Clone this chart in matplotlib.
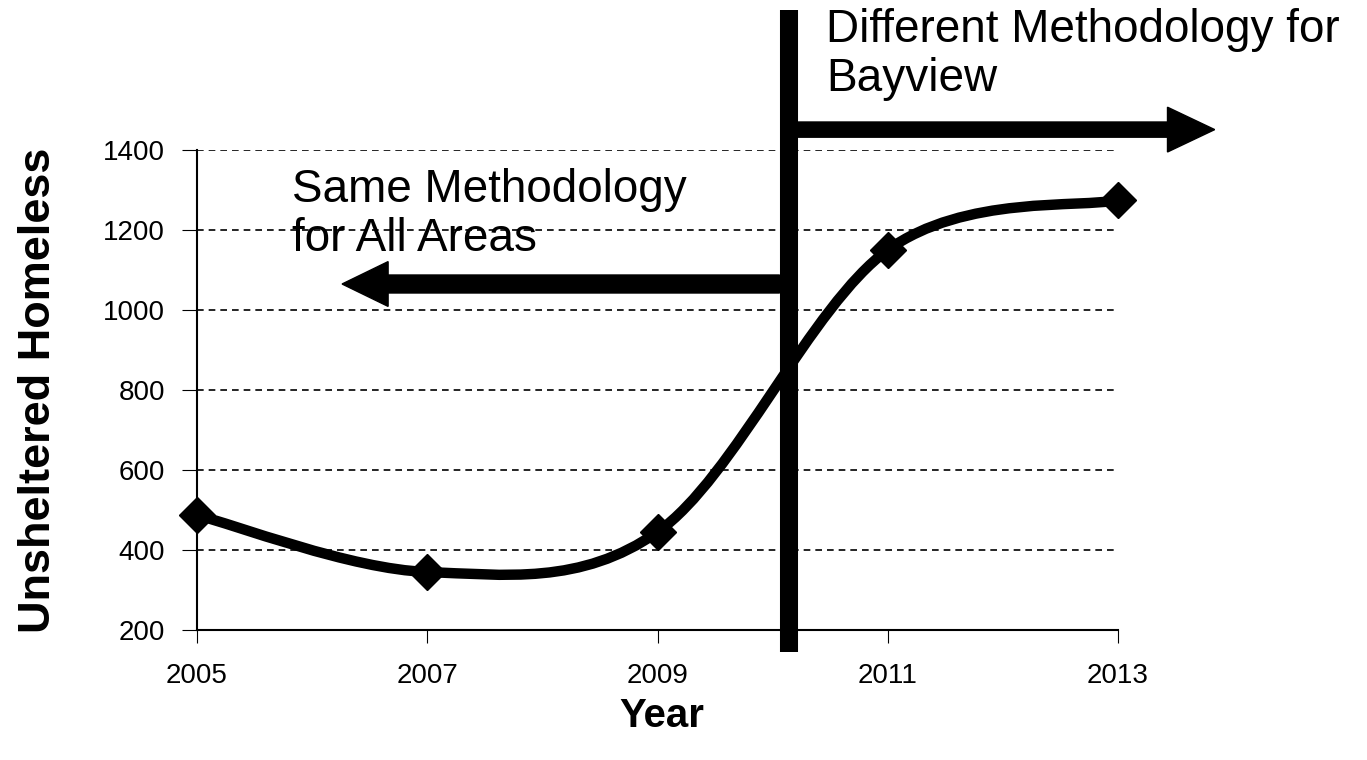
import matplotlib
matplotlib.use('Agg')
import matplotlib.pyplot as plt
from matplotlib.path import Path
from matplotlib.patches import PathPatch
import numpy as np

# data
years = [2005, 2007, 2009, 2011, 2013]
homeless = [487, 345, 445, 1150, 1275]
y_ticks = [200, 400, 600, 800, 1000, 1200, 1400]

# methodology change marker and arrows (data units)
change_year = 2010.14
left_arrow = (2010.06, 2006.26, 1065)   # start x, tip x, y
right_arrow = (2010.22, 2013.84, 1451)

plt.rcParams['font.family'] = ['Liberation Sans', 'DejaVu Sans']

fig = plt.figure(figsize=(13.67, 7.60), dpi=100)
ax = fig.add_axes([197 / 1367, 130 / 760, 921 / 1367, 480 / 760])

# smoothed line (Excel style bezier through the points)
pts = np.column_stack([years, homeless]).astype(float)
n = len(pts)
verts = [pts[0]]
codes = [Path.MOVETO]
for i in range(n - 1):
    p_prev = pts[max(i - 1, 0)]
    p0 = pts[i]
    p1 = pts[i + 1]
    p_next = pts[min(i + 2, n - 1)]
    c1 = p0 + (p1 - p_prev) / 6
    c2 = p1 - (p_next - p0) / 6
    verts += [c1, c2, p1]
    codes += [Path.CURVE4] * 3
ax.add_patch(PathPatch(Path(verts, codes), facecolor='none', edgecolor='black',
                       lw=7.5, zorder=3, clip_on=False))
ax.plot(years, homeless, linestyle='none', marker='D', markersize=18,
        color='black', zorder=4, clip_on=False)

ax.set_xlim(2005, 2013)
ax.set_ylim(200, 1400)
ax.set_xticks(years)
ax.set_yticks(y_ticks)
ax.tick_params(axis='both', labelsize=20, direction='out', color='black')
ax.tick_params(axis='y', length=11, pad=12)
ax.tick_params(axis='x', length=9, pad=15)
ax.yaxis.grid(True, linestyle=(0, (4, 3)), color='black', linewidth=1.2)
ax.set_axisbelow(True)
for side in ['top', 'right']:
    ax.spines[side].set_visible(False)
for side in ['left', 'bottom']:
    ax.spines[side].set_linewidth(1.5)

ax.set_ylabel('Unsheltered Homeless', fontsize=32.5, fontweight='bold')
ax.yaxis.set_label_coords(-0.150, 0.5)
ax.set_xlabel('Year', fontsize=29, fontweight='bold')
ax.xaxis.set_label_coords(0.505, -0.14)

# thick vertical separator
ax.plot([change_year, change_year], [145, 1750], color='black', lw=13,
        solid_capstyle='butt', clip_on=False, zorder=5)

# arrows
x0, x1, ya = left_arrow
ax.arrow(x0, ya, x1 - x0 + 0.40, 0, width=45, head_width=112, head_length=0.40,
         length_includes_head=False, color='black', clip_on=False, zorder=5)
x0, x1, ya = right_arrow
ax.arrow(x0, ya, x1 - x0 - 0.41, 0, width=38, head_width=112, head_length=0.41,
         length_includes_head=False, color='black', clip_on=False, zorder=5)

fig.text(292 / 1367, 1 - 168 / 760, 'Same Methodology\nfor All Areas',
         fontsize=33, va='top', ha='left', linespacing=1.15)
fig.text(826 / 1367, 1 - 8 / 760, 'Different Methodology for\nBayview',
         fontsize=33, va='top', ha='left', linespacing=1.15)

fig.savefig('out.png', dpi=100)
